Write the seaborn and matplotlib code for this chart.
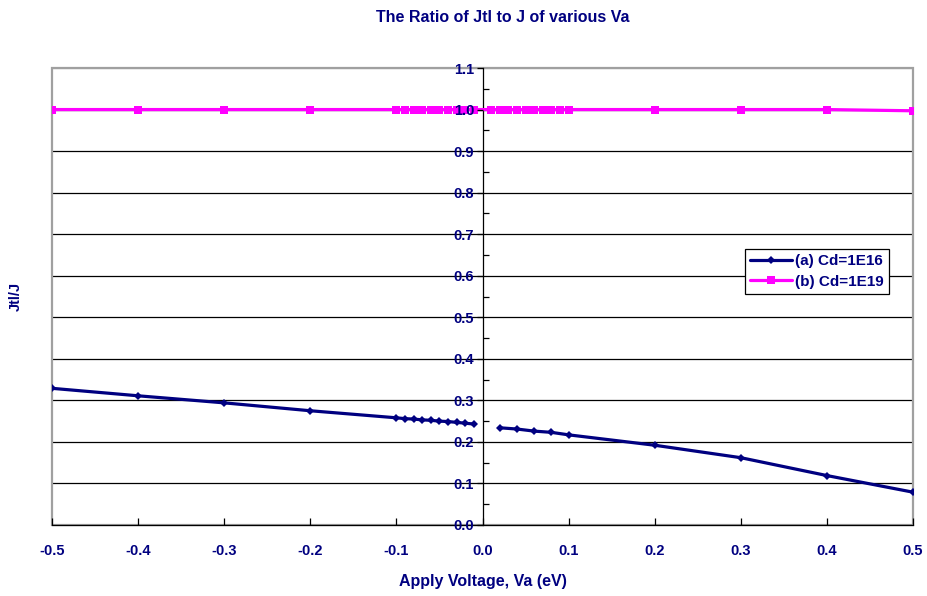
import numpy as np
import pandas as pd
import matplotlib
matplotlib.use("Agg")
import matplotlib.pyplot as plt
from matplotlib.patches import Rectangle
from matplotlib.ticker import MultipleLocator
import seaborn as sns

# ---- data ----
va_a_neg = [-0.5, -0.4, -0.3, -0.2, -0.1, -0.09, -0.08, -0.07, -0.06, -0.05, -0.04, -0.03, -0.02, -0.01]
ratio_a_neg = [0.329, 0.311, 0.294, 0.275, 0.258, 0.256, 0.255, 0.253, 0.252, 0.250, 0.249, 0.247, 0.245, 0.243]
va_a_pos = [0.02, 0.04, 0.06, 0.08, 0.1, 0.2, 0.3, 0.4, 0.5]
ratio_a_pos = [0.234, 0.231, 0.226, 0.223, 0.217, 0.192, 0.162, 0.119, 0.079]

va_b = [-0.5, -0.4, -0.3, -0.2, -0.1, -0.09, -0.08, -0.07, -0.06, -0.05, -0.04, -0.03, -0.02, -0.01,
        0.01, 0.02, 0.03, 0.04, 0.05, 0.06, 0.07, 0.08, 0.09, 0.1, 0.2, 0.3, 0.4, 0.5]
ratio_b = [1.0] * 27 + [0.997]

label_a = "(a) Cd=1E16"
label_b = "(b) Cd=1E19"
title = "The Ratio of Jtl to J of various Va"
xlabel = "Apply Voltage, Va (eV)"
ylabel = "Jtl/J"
xticks = [-0.5, -0.4, -0.3, -0.2, -0.1, 0.0, 0.1, 0.2, 0.3, 0.4, 0.5]
yticks = [0.0, 0.1, 0.2, 0.3, 0.4, 0.5, 0.6, 0.7, 0.8, 0.9, 1.0, 1.1]

df_a_neg = pd.DataFrame({"Va": va_a_neg, "ratio": ratio_a_neg})
df_a_pos = pd.DataFrame({"Va": va_a_pos, "ratio": ratio_a_pos})
df_b = pd.DataFrame({"Va": va_b, "ratio": ratio_b})

# ---- style ----
sns.set_style("white")
plt.rcParams["font.family"] = ["Liberation Sans", "DejaVu Sans"]
navy = "#000080"
magenta = "#FF00FF"

fig = plt.figure(figsize=(9.27, 5.96), dpi=100)
ax = fig.add_axes([52 / 927, 1 - 525 / 596, 861 / 927, 457 / 596])

sns.lineplot(data=df_b, x="Va", y="ratio", ax=ax, color=magenta, lw=2.3,
             marker="s", markersize=5.5, markeredgewidth=0, label=label_b, zorder=4)
sns.lineplot(data=df_a_neg, x="Va", y="ratio", ax=ax, color=navy, lw=2.3,
             marker="D", markersize=4.5, markeredgewidth=0, label=label_a, zorder=5)
sns.lineplot(data=df_a_pos, x="Va", y="ratio", ax=ax, color=navy, lw=2.3,
             marker="D", markersize=4.5, markeredgewidth=0, label="_nolegend_", zorder=5)

ax.set_xlim(-0.5, 0.5)
ax.set_ylim(0, 1.1)
ax.set_xticks(xticks)
ax.set_xticklabels([f"{t:.1f}" for t in xticks])
ax.set_yticks(yticks)
ax.set_yticklabels([f"{t:.1f}" for t in yticks])
ax.yaxis.set_minor_locator(MultipleLocator(0.05))

# horizontal gridlines (below data), axes on top
ax.grid(False)
ax.hlines(yticks[1:-1], 0, 1, transform=ax.get_yaxis_transform(),
          colors="black", lw=0.9, zorder=1)
ax.hlines([yticks[-1]], 0, 1, transform=ax.get_yaxis_transform(),
          colors="#A0A0A0", lw=1.6, zorder=1)
ax.yaxis.set_zorder(10)
ax.xaxis.set_zorder(10)

# spines
for s in ["top", "right"]:
    ax.spines[s].set_visible(False)
ax.spines["left"].set_position(("data", 0))
ax.spines["left"].set_color("black")
ax.spines["left"].set_linewidth(0.9)
ax.spines["left"].set_zorder(3)
ax.spines["bottom"].set_color("black")
ax.spines["bottom"].set_linewidth(0.9)
ax.add_patch(Rectangle((0, 0), 1, 1, transform=ax.transAxes, fill=False,
                       edgecolor="#A0A0A0", lw=1.6, zorder=1, clip_on=False))

ax.tick_params(axis="y", which="major", direction="out", length=4, width=0.9,
               pad=2, labelsize=10.5, labelcolor=navy, color="black", left=True)
ax.tick_params(axis="y", which="minor", direction="in", length=4, width=0.9,
               color="black", left=True)
ax.tick_params(axis="x", which="major", direction="in", length=5, width=0.9,
               pad=14, labelsize=10.5, labelcolor=navy, color="black", bottom=True)
for lab in ax.get_xticklabels() + ax.get_yticklabels():
    lab.set_fontweight("bold")

ax.set_xlabel(xlabel, fontsize=11.5, fontweight="bold", color=navy)
ax.set_ylabel(ylabel, fontsize=10.5, fontweight="bold", color=navy)
ax.yaxis.set_label_coords(-0.034, 0.5)
ax.xaxis.set_label_coords(0.5, -0.108)

fig.text(503 / 927, 1 - 18 / 596, title, ha="center", va="center",
         fontsize=11.5, fontweight="bold", color=navy)

handles, labels = ax.get_legend_handles_labels()
order = [labels.index(label_a), labels.index(label_b)]
leg = ax.legend([handles[i] for i in order], [labels[i] for i in order],
                loc="upper left", bbox_to_anchor=(0.805, 0.605),
                frameon=True, fancybox=False, edgecolor="black", framealpha=1,
                prop={"weight": "bold", "size": 11}, handlelength=2.7,
                handletextpad=0.2, borderpad=0.35, labelspacing=0.45,
                borderaxespad=0)
leg.get_frame().set_linewidth(0.9)
leg.set_zorder(20)
for t in leg.get_texts():
    t.set_color(navy)

fig.savefig("out.png", dpi=100)
